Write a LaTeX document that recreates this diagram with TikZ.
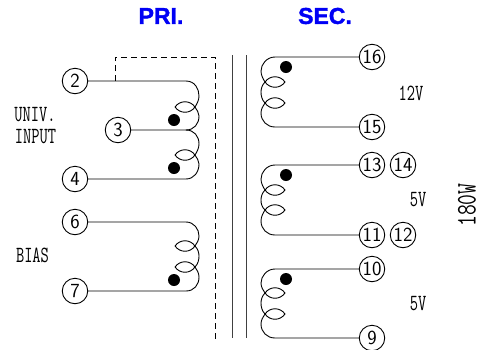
\documentclass[tikz,border=0pt]{standalone}
\usepackage{fontspec}
\newfontfamily\headf[BoldFeatures={FakeBold=1.6}]{Liberation Sans}
\newfontfamily\slabf{Latin Modern Mono}
\definecolor{headblue}{RGB}{0,0,245}
\tikzset{
  wire/.style={line width=0.9pt,black,line cap=round},
  core/.style={line width=0.9pt,black!75},
  shield/.style={line width=0.9pt,black,dash pattern=on 6pt off 4pt},
  pin/.style={circle,draw=black,line width=0.9pt,minimum size=25.5pt,inner sep=0pt,font=\sffamily\fontsize{20}{20}\selectfont,text=black},
  dotmark/.style={circle,fill=black,minimum size=12pt,inner sep=0pt},
  headlab/.style={font=\headf\bfseries\fontsize{23}{24}\selectfont,text=headblue},
  vlab/.style={font=\slabf\fontsize{16}{16}\selectfont,yscale=1.45,text=black,inner sep=0pt},
  vlabbig/.style={font=\slabf\fontsize{21}{21}\selectfont,yscale=1.35,text=black,inner sep=0pt}
}
% left-side lens at (#1,#2): tips at x-20 and x
\newcommand{\lensl}[2]{\draw[wire] (#1-20,#2) .. controls (#1-15,#2-7) and (#1-5,#2-7) .. (#1,#2) .. controls (#1-5,#2+7) and (#1-15,#2+7) .. (#1-20,#2);}
\newcommand{\lensr}[2]{\draw[wire] (#1,#2) .. controls (#1+5,#2-7) and (#1+15,#2-7) .. (#1+20,#2) .. controls (#1+15,#2+7) and (#1+5,#2+7) .. (#1,#2);}
\begin{document}
\begin{tikzpicture}[x=1pt,y=-1pt]
\useasboundingbox (0,0) rectangle (482,349);
% headings
\node[headlab] (pri) at (161,16) {PRI.};
\node[headlab] (sec) at (325,16) {SEC.};
% pins
\node[pin] (p2) at (75,81) {2};
\node[pin] (p3) at (118,130) {3};
\node[pin] (p4) at (75,179) {4};
\node[pin] (p6) at (75,222) {6};
\node[pin] (p7) at (75,291) {7};
\node[pin] (p16) at (372,57) {16};
\node[pin] (p15) at (372,127) {15};
\node[pin] (p13) at (372,165) {13};
\node[pin] (p14) at (403,165) {14};
\node[pin] (p11) at (372,235) {11};
\node[pin] (p12) at (403,235) {12};
\node[pin] (p10) at (372,269) {10};
\node[pin] (p9) at (372,338) {9};
% core
\coordinate (c1a) at (232,55); \coordinate (c1b) at (232,338);
\coordinate (c2a) at (246,55); \coordinate (c2b) at (246,338);
\draw[core] (c1a) -- (c1b);
\draw[core] (c2a) -- (c2b);
% shield
\coordinate (s0) at (115,81); \coordinate (s1) at (115,57);
\coordinate (s2) at (215,57); \coordinate (s3) at (215,339);
\draw[shield] (s0) -- (s1) -- (s2) -- (s3);
% primary winding
\draw[wire] (p2.east) -- (186,81) .. controls (195,81) and (199,89) .. (199,96)
  .. controls (199,100) and (197,104) .. (195,107)
  .. controls (197,110) and (199,113) .. (199,116)
  .. controls (199,124) and (194,130) .. (186,130) -- (p3.east);
\draw[wire] (186,130) .. controls (194,130) and (199,136) .. (199,144)
  .. controls (199,148) and (197,152) .. (195,155)
  .. controls (197,158) and (199,161) .. (199,164)
  .. controls (199,172) and (194,179) .. (186,179) -- (p4.east);
\lensl{195}{107} \lensl{195}{155}
% bias winding
\draw[wire] (p6.east) -- (186,222) .. controls (194,222) and (199,229) .. (199,236)
  .. controls (199,240) and (197,243) .. (195,246)
  .. controls (198,249) and (199,253) .. (199,256)
  .. controls (199,260) and (198,264) .. (195,267)
  .. controls (197,270) and (199,273) .. (199,277)
  .. controls (199,285) and (194,291) .. (186,291) -- (p7.east);
\lensl{195}{246} \lensl{195}{267}
% secondary windings
\draw[wire] (p16.west) -- (275,57) .. controls (267,57) and (261,64) .. (261,71)
  .. controls (261,75) and (263,79) .. (265,82)
  .. controls (262,85) and (261,89) .. (261,92)
  .. controls (261,96) and (262,100) .. (265,103)
  .. controls (263,106) and (261,109) .. (261,113)
  .. controls (261,121) and (267,127) .. (275,127) -- (p15.west);
\lensr{265}{82} \lensr{265}{103}
\draw[wire] (p13.west) -- (275,165) .. controls (267,165) and (261,172) .. (261,179)
  .. controls (261,183) and (263,187) .. (265,190)
  .. controls (262,193) and (261,197) .. (261,200)
  .. controls (261,204) and (262,207) .. (265,210)
  .. controls (263,213) and (261,217) .. (261,221)
  .. controls (261,229) and (267,235) .. (275,235) -- (p11.west);
\lensr{265}{190} \lensr{265}{210}
\draw[wire] (p10.west) -- (275,269) .. controls (267,269) and (261,276) .. (261,283)
  .. controls (261,287) and (263,290) .. (265,293)
  .. controls (262,296) and (261,300) .. (261,303)
  .. controls (261,307) and (262,311) .. (265,314)
  .. controls (263,317) and (261,320) .. (261,324)
  .. controls (261,332) and (267,338) .. (275,338) -- (p9.west);
\lensr{265}{293} \lensr{265}{314}
% polarity dots
\node[dotmark] (d1) at (174,120) {};
\node[dotmark] (d2) at (174,168) {};
\node[dotmark] (d3) at (174,280) {};
\node[dotmark] (d4) at (286,67) {};
\node[dotmark] (d5) at (286,175) {};
\node[dotmark] (d6) at (286,279) {};
% labels
\node[vlab] (l1) at (35,115) {UNIV.};
\node[vlab] (l2) at (35.5,137) {INPUT};
\node[vlab] (l3) at (32.5,255) {BIAS};
\node[vlab] (l4) at (411,93) {12V};
\node[vlab] (l5) at (418,200) {5V};
\node[vlab] (l6) at (418,304) {5V};
\node[rotate=90,vlabbig] (l7) at (467,205) {180W};
\end{tikzpicture}
\end{document}
